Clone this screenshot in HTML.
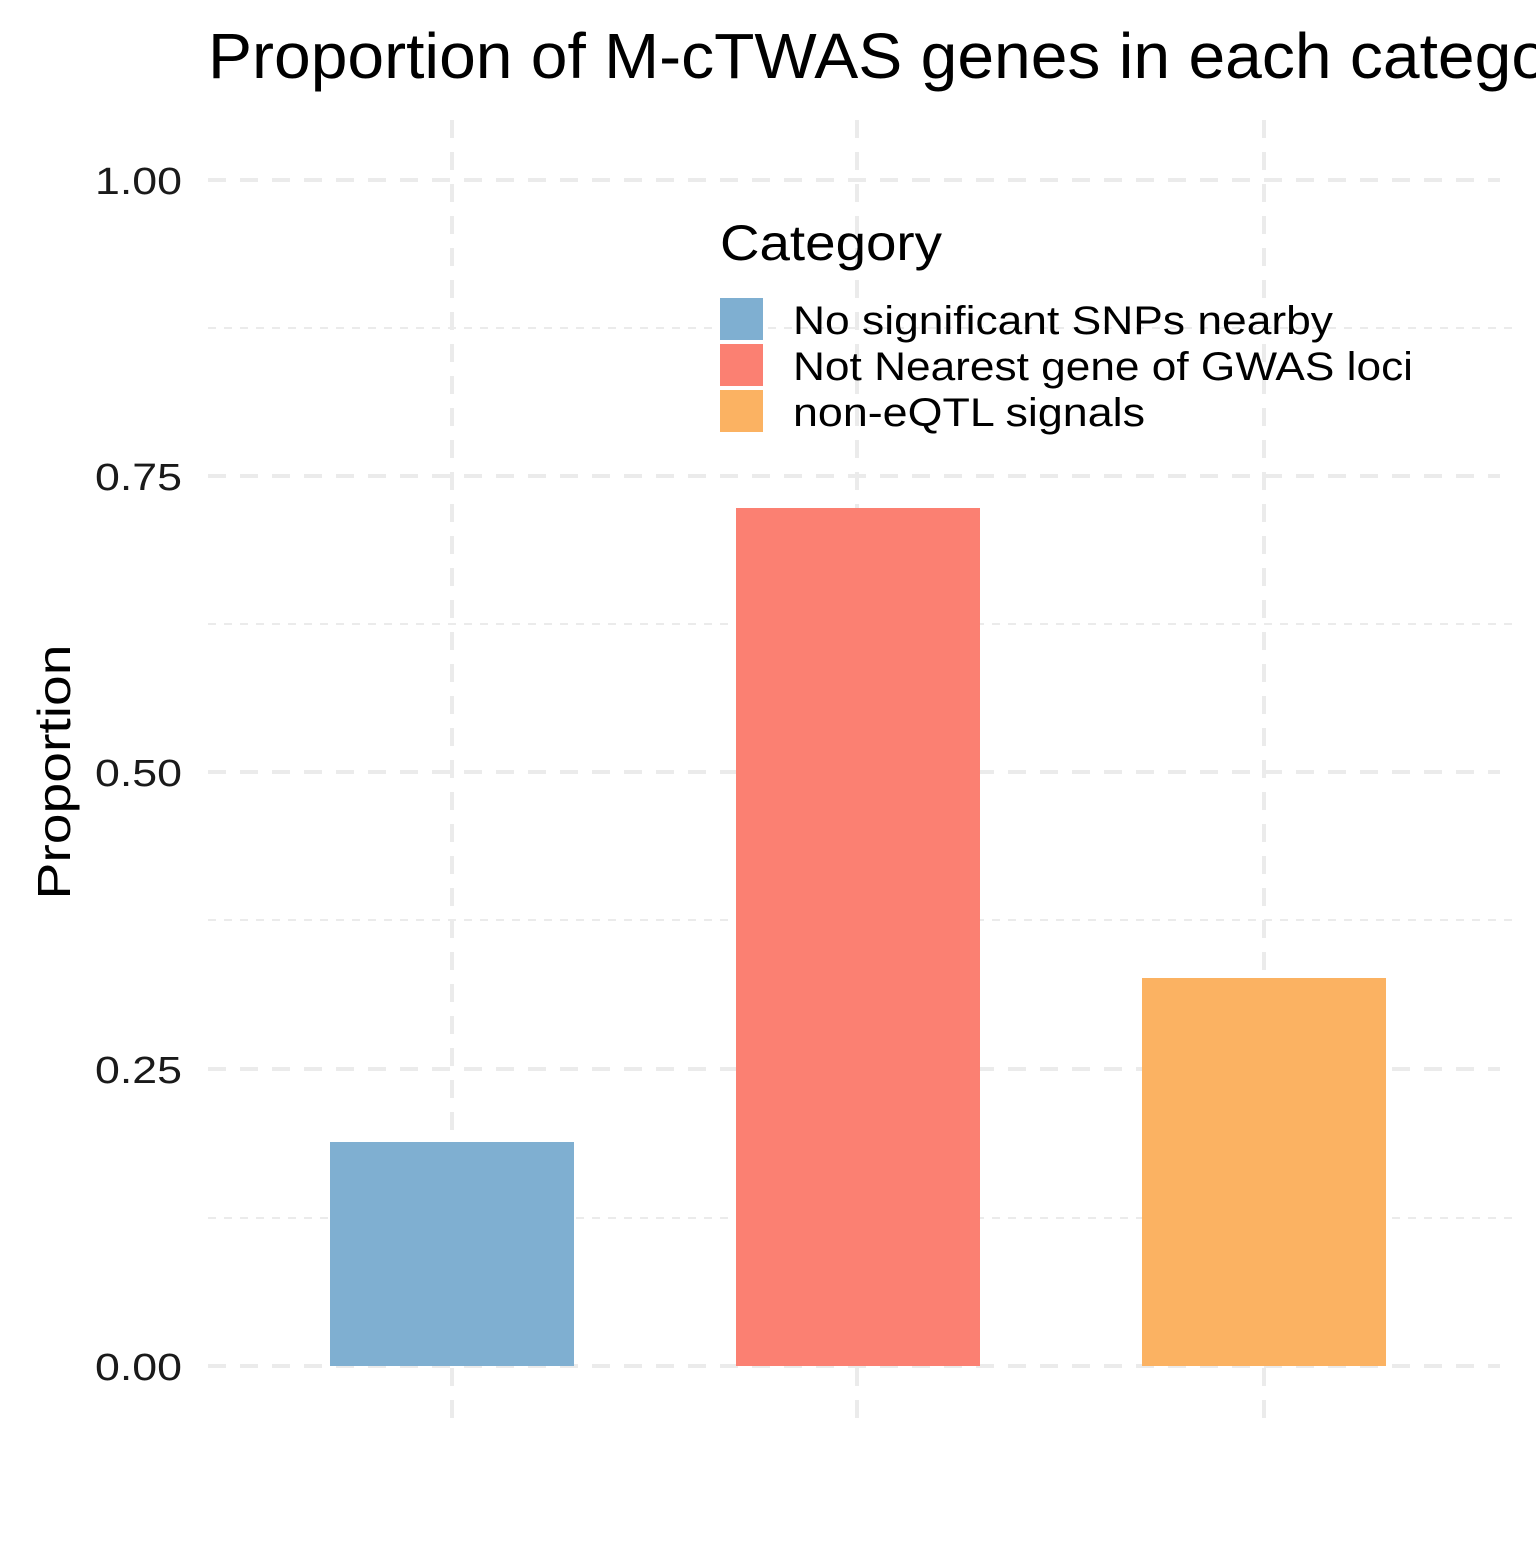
<!DOCTYPE html>
<html><head><style>html,body{margin:0;padding:0;background:#fff;overflow:hidden}</style></head>
<body>
<svg width="1536" height="1536" xmlns="http://www.w3.org/2000/svg" font-family="Liberation Sans, Arial, sans-serif">
<rect width="1536" height="1536" fill="#fff"/>
<g stroke="#ebebeb" stroke-width="2" stroke-dasharray="8,8">
<line x1="208" x2="1512" y1="328" y2="328"/>
<line x1="208" x2="1512" y1="624" y2="624"/>
<line x1="208" x2="1512" y1="920" y2="920"/>
<line x1="208" x2="1512" y1="1218" y2="1218"/>
</g>
<g stroke="#ebebeb" stroke-width="4" stroke-dasharray="18,14">
<line x1="208" x2="1500" y1="180" y2="180"/>
<line x1="208" x2="1500" y1="476" y2="476"/>
<line x1="208" x2="1500" y1="772" y2="772"/>
<line x1="208" x2="1500" y1="1069" y2="1069"/>
<line x1="208" x2="1500" y1="1366" y2="1366"/>
<line x1="452" x2="452" y1="120" y2="1430"/>
<line x1="857" x2="857" y1="120" y2="1430"/>
<line x1="1264" x2="1264" y1="120" y2="1430"/>
</g>
<rect x="330" y="1142" width="244" height="224" fill="#7fafd1"/>
<rect x="736" y="508" width="244" height="858" fill="#fb8072"/>
<rect x="1142" y="978" width="244" height="388" fill="#fbb262"/>
<text x="208" y="78" font-size="64" fill="#000" textLength="1395" lengthAdjust="spacingAndGlyphs">Proportion of M-cTWAS genes in each category</text>
<g font-size="38" fill="#1a1a1a" text-anchor="end">
<text x="182" y="194" textLength="87" lengthAdjust="spacingAndGlyphs">1.00</text>
<text x="182" y="490" textLength="87" lengthAdjust="spacingAndGlyphs">0.75</text>
<text x="182" y="786" textLength="87" lengthAdjust="spacingAndGlyphs">0.50</text>
<text x="182" y="1083" textLength="87" lengthAdjust="spacingAndGlyphs">0.25</text>
<text x="182" y="1380" textLength="87" lengthAdjust="spacingAndGlyphs">0.00</text>
</g>
<text transform="translate(70,772) rotate(-90)" font-size="46" text-anchor="middle" fill="#000" textLength="255" lengthAdjust="spacingAndGlyphs">Proportion</text>
<text x="720" y="260" font-size="50" fill="#000" textLength="222" lengthAdjust="spacingAndGlyphs">Category</text>
<rect x="720" y="298" width="43" height="42" fill="#7fafd1"/>
<rect x="720" y="344" width="43" height="42" fill="#fb8072"/>
<rect x="720" y="390" width="43" height="42" fill="#fbb262"/>
<g font-size="40" fill="#000">
<text x="793" y="334" textLength="540" lengthAdjust="spacingAndGlyphs">No significant SNPs nearby</text>
<text x="793" y="380" textLength="620" lengthAdjust="spacingAndGlyphs">Not Nearest gene of GWAS loci</text>
<text x="793" y="426" textLength="352" lengthAdjust="spacingAndGlyphs">non-eQTL signals</text>
</g>
</svg>
</body></html>
